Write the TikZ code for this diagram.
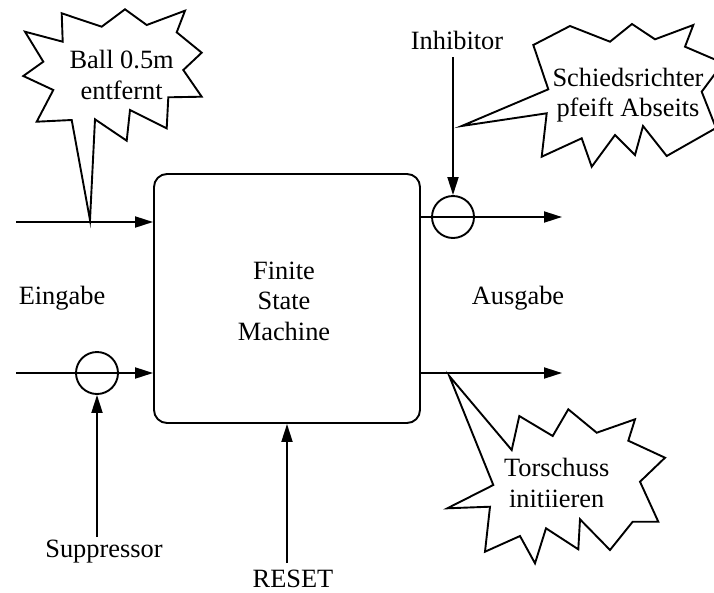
\documentclass[tikz,border=0pt]{standalone}
\usepackage{fontspec}
\setmainfont{Liberation Serif}
\usetikzlibrary{arrows.meta}
\tikzset{
  every node/.style={font=\fontsize{26.4}{30.5}\selectfont},
  lbl/.style={inner sep=0pt, align=center},
  wire/.style={line width=1.9pt, -{Triangle[length=18pt,width=11pt]}},
  gate/.style={circle, draw, line width=1.9pt, minimum size=42pt, inner sep=0pt},
  fsm/.style={draw, line width=1.9pt, rounded corners=13pt, minimum width=266pt, minimum height=249pt, inner sep=0pt},
  burst/.style={draw, line width=1.9pt, fill=white, line join=miter}
}
\begin{document}
\begin{tikzpicture}[x=1pt,y=-1pt]
\useasboundingbox (0,0) rectangle (714,592);

% main box
\node[fsm] (box) at (287,298.5) {};
\node[lbl] (fsmtext) at (284,301) {Finite\\State\\Machine};

% side labels
\node[lbl] (eingabe) at (62,298) {Eingabe};
\node[lbl] (ausgabe) at (518,298) {Ausgabe};

% inputs
\coordinate (in1) at (16,222);
\coordinate (in2) at (16,373);
\draw[wire] (in1) -- (in1 -| box.west);
\draw[wire] (in2) -- (in2 -| box.west);
\node[gate] (sup) at (97,373) {};

\node[lbl] (suptext) at (104,552) {Suppressor};
\coordinate (supstart) at (97,537);
\draw[wire] (supstart) -- (sup.south);

\node[lbl] (reset) at (293,579) {RESET};
\coordinate (resetstart) at (287,563);
\draw[wire] (resetstart) -- (resetstart |- box.south);

% outputs
\coordinate (out1) at (562,217);
\coordinate (out2) at (562,373);
\draw[wire] (out1 -| box.east) -- (out1);
\draw[wire] (out2 -| box.east) -- (out2);
\node[gate] (inh) at (453,217) {};

\node[lbl] (inhtext) at (457,40) {Inhibitor};
\coordinate (inhstart) at (453,57);
\draw[wire] (inhstart) -- (inh.north);

% callout: Ball
\draw[burst] (90,220) -- (95,119.3) -- (126.7,140.7) -- (130,110) -- (166.7,128.3)
  -- (168.3,97.3) -- (201.7,96.7) -- (183.3,70) -- (201.7,52.7) -- (176.7,32.3)
  -- (185,10.7) -- (146.7,25) -- (125,9.3) -- (101.7,26.7) -- (61.7,13.3)
  -- (62.7,41.7) -- (25,31.7) -- (43.3,61.7) -- (23.3,76) -- (53.3,90)
  -- (36.7,121.7) -- (71.7,120) -- cycle;
\node[lbl] (ball) at (121.7,75) {Ball 0.5m\\entfernt};

% callout: Schiedsrichter
\draw[burst] (461.7,126) -- (548.3,89.3) -- (533.3,45) -- (570,26) -- (610,41.7)
  -- (632,24) -- (655,39.3) -- (693.3,25) -- (685,46.7) -- (723,63)
  -- (701.7,91.7) -- (716,128) -- (666.7,156) -- (643,126) -- (635,155)
  -- (615,135) -- (591.7,166.7) -- (581.7,138.3) -- (541.7,156.7)
  -- (546.7,113.3) -- cycle;
\node[lbl] (schied) at (628,95) {Schiedsrichter\\pfeift Abseits};

% callout: Torschuss
\draw[burst] (449.3,376) -- (511.7,450) -- (519.3,416) -- (552.7,436) -- (568.3,409.3)
  -- (596.7,432.7) -- (635,419.3) -- (628.3,440.7) -- (665,457.7) -- (640,481.7)
  -- (658.3,521.7) -- (632.7,521.7) -- (610,550) -- (580,519.3) -- (578.3,549.3)
  -- (546,528.3) -- (535,563.3) -- (520,536) -- (485,551.7) -- (490,506.7)
  -- (447.3,508.3) -- (493.3,485) -- cycle;
\node[lbl] (tor) at (556.7,483) {Torschuss\\initiieren};
\end{tikzpicture}
\end{document}
